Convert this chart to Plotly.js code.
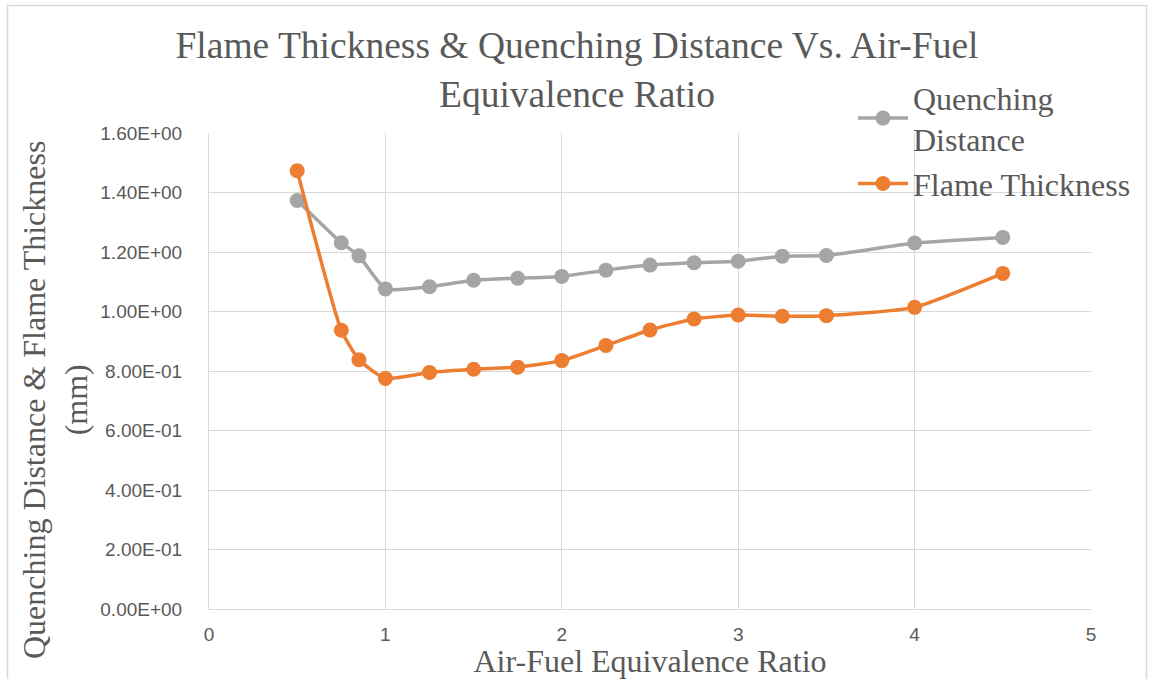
<!DOCTYPE html>
<html>
<head>
<meta charset="utf-8">
<script src="https://cdn.plot.ly/plotly-3.0.1.min.js"></script>
<style>html,body{margin:0;padding:0;background:#fff;}#chart{width:1149px;height:679px;}</style>
</head>
<body>
<div id="chart"></div>
<script>
const equivalenceRatio = [0.5, 0.75, 0.85, 1, 1.25, 1.5, 1.75, 2, 2.25, 2.5, 2.75, 3, 3.25, 3.5, 4, 4.5];
const quenchingDistance = [1.373, 1.231, 1.187, 1.076, 1.083, 1.105, 1.112, 1.118, 1.139, 1.156, 1.164, 1.169, 1.186, 1.188, 1.230, 1.249];
const flameThickness = [1.473, 0.937, 0.838, 0.775, 0.795, 0.806, 0.813, 0.835, 0.886, 0.938, 0.975, 0.988, 0.984, 0.986, 1.014, 1.128];
const yTickVals = [0, 0.2, 0.4, 0.6, 0.8, 1.0, 1.2, 1.4, 1.6];
const yTickText = ['0.00E+00', '2.00E-01', '4.00E-01', '6.00E-01', '8.00E-01', '1.00E+00', '1.20E+00', '1.40E+00', '1.60E+00'];
const xTickVals = [0, 1, 2, 3, 4, 5];
const xTickText = ['0', '1', '2', '3', '4', '5'];

const serif = 'Liberation Serif, Times New Roman, serif';
const sans = 'Liberation Sans, Arial, sans-serif';
const textGray = '#595959';
const gridGray = '#d9d9d9';

const traces = [
  {
    x: equivalenceRatio, y: quenchingDistance, name: 'Quenching<br>Distance',
    type: 'scatter', mode: 'lines+markers',
    line: {color: '#A5A5A5', width: 3.5, shape: 'spline', smoothing: 0.5},
    marker: {color: '#A5A5A5', size: 15}
  },
  {
    x: equivalenceRatio, y: flameThickness, name: 'Flame Thickness',
    type: 'scatter', mode: 'lines+markers',
    line: {color: '#ED7D31', width: 3.5, shape: 'spline', smoothing: 0.5},
    marker: {color: '#ED7D31', size: 15}
  }
];

const L = 209, R = 1091, T = 133, B = 609;
const pw = R - L, ph = B - T;
const px = v => (v - L) / pw;
const py = v => (B - v) / ph;

const layout = {
  width: 1149, height: 679,
  margin: {l: L, r: 1149 - R, t: T, b: 679 - B, pad: 0},
  paper_bgcolor: '#ffffff', plot_bgcolor: '#ffffff',
  showlegend: true,
  title: {
    text: 'Flame Thickness & Quenching Distance Vs. Air-Fuel<br>Equivalence Ratio',
    font: {family: serif, size: 37.5, color: textGray},
    x: 577 / 1149, xanchor: 'center', xref: 'container',
    y: 1 - 58 / 679, yanchor: 'top', yref: 'container'
  },
  xaxis: {
    range: [0, 5], tickvals: xTickVals, ticktext: xTickText,
    showgrid: true, gridcolor: gridGray, gridwidth: 1,
    showline: true, linecolor: gridGray, linewidth: 1, zeroline: false,
    ticks: 'outside', ticklen: 8, tickcolor: 'rgba(0,0,0,0)',
    tickfont: {family: sans, size: 19, color: textGray},
    title: {text: 'Air-Fuel Equivalence Ratio', font: {family: serif, size: 32, color: textGray}, standoff: 8},
    fixedrange: true
  },
  yaxis: {
    range: [0, 1.6], tickvals: yTickVals, ticktext: yTickText,
    showgrid: true, gridcolor: gridGray, gridwidth: 1,
    showline: true, linecolor: gridGray, linewidth: 1, zeroline: false,
    ticks: 'outside', ticklen: 22, tickcolor: 'rgba(0,0,0,0)',
    tickfont: {family: sans, size: 19, color: textGray},
    fixedrange: true
  },
  legend: {
    x: px(853), xanchor: 'left', y: py(70), yanchor: 'top',
    bgcolor: 'rgba(0,0,0,0)', borderwidth: 0,
    font: {family: serif, size: 32, color: textGray},
    itemwidth: 50, tracegroupgap: 0
  },
  annotations: [
    {
      text: 'Quenching Distance & Flame Thickness<br>(mm)',
      textangle: -90, showarrow: false,
      xref: 'paper', yref: 'paper',
      x: px(55), y: py(400), xanchor: 'center', yanchor: 'middle',
      font: {family: serif, size: 32, color: textGray}
    }
  ],
  shapes: [
    {type: 'rect', xref: 'paper', yref: 'paper',
     x0: px(7.5), x1: px(1146.5), y0: py(700), y1: py(5.5),
     line: {color: gridGray, width: 1.5}, fillcolor: 'rgba(0,0,0,0)', layer: 'below'}
  ]
};

Plotly.newPlot('chart', traces, layout, {displayModeBar: false, staticPlot: true});
</script>
</body>
</html>
